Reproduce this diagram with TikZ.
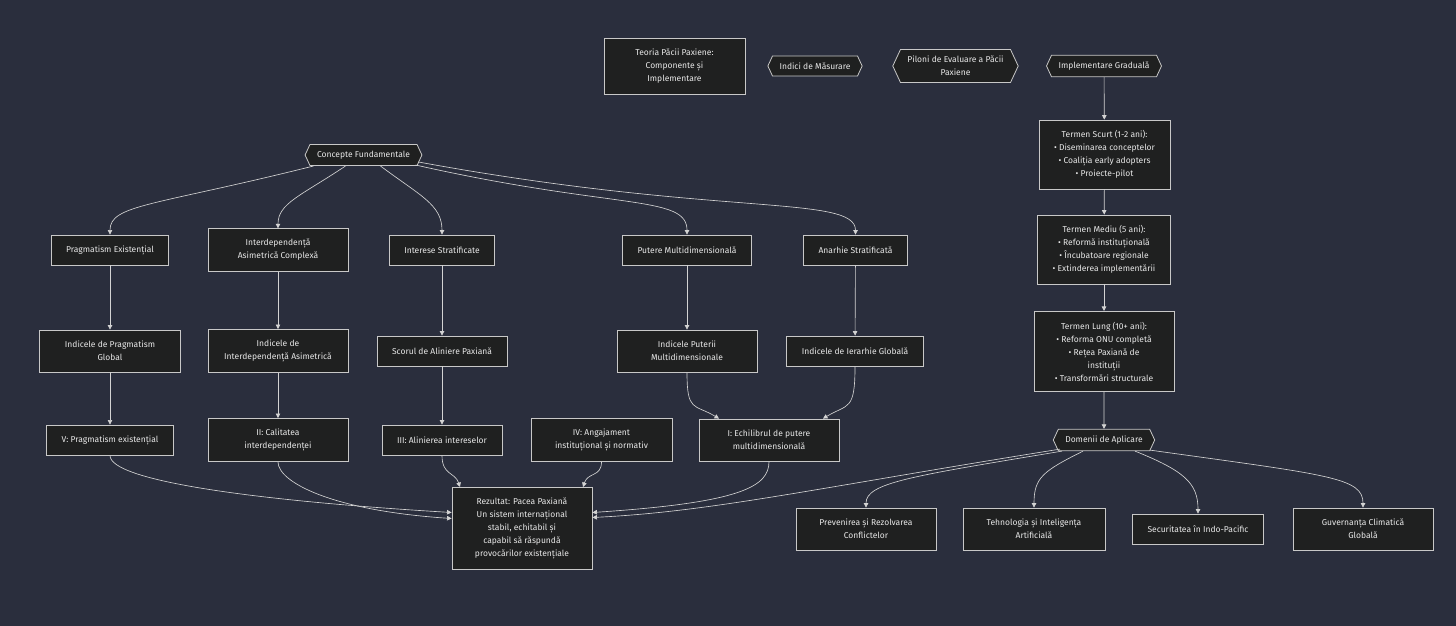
\documentclass[tikz,border=0pt]{standalone}
\usepackage{fontspec}
\setmainfont{Fira Sans}
\usetikzlibrary{arrows.meta,positioning,shapes.symbols}
\definecolor{bg}{HTML}{2A2E3D}
\definecolor{nodebg}{HTML}{1F2020}
\definecolor{rim}{HTML}{C8C8C8}
\definecolor{ink}{HTML}{E8E8E8}
\definecolor{wire}{HTML}{D3D3D3}

\begin{document}
\begin{tikzpicture}[x=1pt, y=-1pt,
      base/.style={draw=rim, fill=nodebg, text=ink, align=center, line width=0.8pt,
                   font=\fontsize{8.5}{13}\selectfont},
      box/.style={base, rectangle, inner xsep=15pt, inner ysep=10.5pt, minimum height=30pt},
      two/.style={box, minimum width=140pt, minimum height=42pt},
      hex/.style={base, signal, signal to=east and west, signal pointer angle=130,
                  inner xsep=7pt, inner ysep=6.5pt, minimum height=20pt},
      arr/.style={-{Triangle[length=4.5pt,width=4.5pt]}, line width=0.65pt, wire}]
    \fill[bg] (0,0) rectangle (1456,626);
    \node[box, minimum width=141pt, minimum height=56pt] (teoria) at (674.5,66) {Teoria Păcii Paxiene:\\Componente și\\Implementare};
    \node[hex] (indici) at (815,66) {Indici de Măsurare};
    \node[hex] (piloni) at (955.5,66) {Piloni de Evaluare a Păcii\\Paxiene};
    \node[hex] (impl) at (1104,66) {Implementare Graduală};
    \node[box] (scurt) at (1104.5,154.5) {Termen Scurt (1-2 ani):\\• Diseminarea conceptelor\\• Coaliția early adopters\\• Proiecte-pilot};
    \node[box] (mediu) at (1104,249.5) {Termen Mediu (5 ani):\\• Reformă instituțională\\• Încubatoare regionale\\• Extinderea implementării};
    \node[box, minimum width=140pt] (lung) at (1104,351.5) {Termen Lung (10+ ani):\\• Reforma ONU completă\\• Rețea Paxiană de\\instituții\\• Transformări structurale};
    \node[hex] (dom) at (1104,440) {Domenii de Aplicare};
    \node[two] (prev) at (866,529) {Prevenirea și Rezolvarea\\Conflictelor};
    \node[two, minimum width=142pt] (teh) at (1034,529) {Tehnologia și Inteligența\\Artificială};
    \node[box] (sec) at (1198,529) {Securitatea în Indo-Pacific};
    \node[two] (guv) at (1363,529) {Guvernanța Climatică\\Globală};
    \node[hex] (cf) at (363.5,155) {Concepte Fundamentale};
    \node[box] (prag) at (110,250) {Pragmatism Existențial};
    \node[two] (interdep) at (278,250) {Interdependență\\Asimetrică Complexă};
    \node[box] (interese) at (442,250) {Interese Stratificate};
    \node[box] (putere) at (687,250) {Putere Multidimensională};
    \node[box] (anarhie) at (855.5,250) {Anarhie Stratificată};
    \node[two, minimum width=141pt] (ipg) at (110,351) {Indicele de Pragmatism\\Global};
    \node[two] (iia) at (278,351) {Indicele de\\Interdependență Asimetrică};
    \node[box] (sap) at (442,351) {Scorul de Aliniere Paxiană};
    \node[two] (ipm) at (687,351) {Indicele Puterii\\Multidimensionale};
    \node[box] (iig) at (855,351) {Indicele de Ierarhie Globală};
    \node[box] (v5) at (110,440) {V: Pragmatism existențial};
    \node[two] (ii2) at (278,440) {II: Calitatea\\interdependenței};
    \node[box] (iii3) at (442,440) {III: Alinierea intereselor};
    \node[two, minimum width=141pt] (iv4) at (601.5,440) {IV: Angajament\\instituțional și normativ};
    \node[two] (i1) at (769,440) {I: Echilibrul de putere\\multidimensională};
    \node[box, minimum width=140pt, minimum height=81pt] (rez) at (522,528.5) {Rezultat: Pacea Paxiană\\Un sistem internațional\\stabil, echitabil și\\capabil să răspundă\\provocărilor existențiale};
    \draw[arr] ([xshift=-50pt]cf.south) .. controls +(-160,40) and +(0,-30) .. (prag.north);
    \draw[arr] ([xshift=-18pt]cf.south) .. controls +(-45,30) and +(0,-25) .. (interdep.north);
    \draw[arr] ([xshift=17pt]cf.south) .. controls +(40,30) and +(0,-30) .. (interese.north);
    \draw[arr] ([xshift=52pt,yshift=1pt]cf.south) .. controls +(200,45) and +(0,-40) .. (putere.north);
    \draw[arr] ([xshift=55pt,yshift=4pt]cf.south) .. controls +(300,55) and +(0,-40) .. (anarhie.north);
    \draw[arr] (prag) -- (ipg);
    \draw[arr] (interdep) -- (iia);
    \draw[arr] (interese) -- (sap);
    \draw[arr] (putere) -- (ipm);
    \draw[arr] (anarhie) -- (iig);
    \draw[arr] (ipg) -- (v5);
    \draw[arr] (iia) -- (ii2);
    \draw[arr] (sap) -- (iii3);
    \draw[arr] (ipm.south) .. controls +(0,40) and +(-25,-15) .. ([xshift=-50pt]i1.north);
    \draw[arr] (iig.south) .. controls +(0,45) and +(25,-15) .. ([xshift=54pt]i1.north);
    \draw[arr] (v5.south) .. controls +(0,25) and +(-200,-12) .. ([yshift=16pt]rez.west);
    \draw[arr] (ii2.south) .. controls +(0,20) and +(-120,-8) .. ([yshift=10pt]rez.west);
    \draw[arr] (iii3.south) .. controls +(0,20) and +(-5,-15) .. ([xshift=-62pt]rez.north);
    \draw[arr] (iv4.south) .. controls +(0,15) and +(5,-15) .. ([xshift=61pt]rez.north);
    \draw[arr] (i1.south) .. controls +(0,25) and +(150,-10) .. ([yshift=16pt]rez.east);
    \draw[arr] (impl) -- (scurt);
    \draw[arr] (scurt) -- (mediu);
    \draw[arr] (mediu) -- (lung);
    \draw[arr] (lung) -- (dom);
    \draw[arr] ([xshift=-44pt,yshift=2pt]dom.south) .. controls +(-250,40) and +(120,-6) .. ([yshift=11pt]rez.east);
    \draw[arr] ([xshift=-42pt]dom.south) .. controls +(-150,25) and +(0,-25) .. (prev.north);
    \draw[arr] ([xshift=-21pt]dom.south) .. controls +(-40,20) and +(0,-30) .. (teh.north);
    \draw[arr] ([xshift=31pt]dom.south) .. controls +(50,20) and +(0,-30) .. (sec.north);
    \draw[arr] ([xshift=46pt,yshift=1pt]dom.south) .. controls +(180,25) and +(0,-30) .. (guv.north);
\end{tikzpicture}
\end{document}
